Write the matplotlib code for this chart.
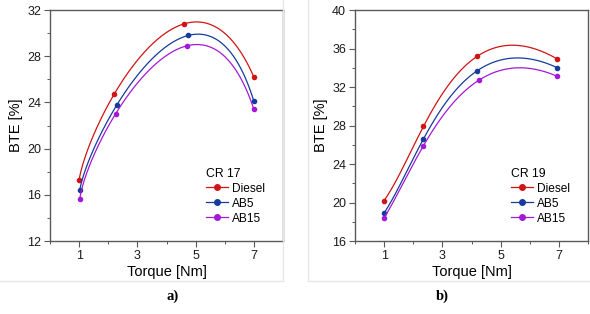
import numpy as np
import matplotlib
matplotlib.use("Agg")
import matplotlib.pyplot as plt
from matplotlib.lines import Line2D
from matplotlib.ticker import MultipleLocator

plt.rcParams['font.family'] = ['Liberation Sans', 'DejaVu Sans']

series = ["Diesel", "AB5", "AB15"]
colors = ["#d01414", "#143c9a", "#a21ad6"]

# Panel a) CR 17
torque_a = {
    "Diesel": [1.0, 2.2, 4.6, 7.0],
    "AB5": [1.02, 2.3, 4.75, 7.0],
    "AB15": [1.02, 2.25, 4.7, 7.0],
}
bte_a = {
    "Diesel": [17.3, 24.7, 30.8, 26.2],
    "AB5": [16.4, 23.8, 29.8, 24.1],
    "AB15": [15.6, 23.0, 28.9, 23.4],
}
# Panel b) CR 19
torque_b = {
    "Diesel": [1.0, 2.35, 4.2, 6.95],
    "AB5": [1.0, 2.35, 4.2, 6.95],
    "AB15": [1.0, 2.35, 4.25, 6.95],
}
bte_b = {
    "Diesel": [20.2, 27.9, 35.2, 34.9],
    "AB5": [18.9, 26.6, 33.7, 34.0],
    "AB15": [18.4, 25.9, 32.7, 33.1],
}

xticks = [1, 3, 5, 7]
yticks_a = [12, 16, 20, 24, 28, 32]
yticks_b = [16, 20, 24, 28, 32, 36, 40]

W, H = 590, 314
AX_W, AX_H = 233, 231
XLIM = (0, 8)


def smooth_curve(x, y, ylim, n=300):
    # parametric cubic through the points (centripetal parameter, screen scale)
    x = np.asarray(x, float)
    y = np.asarray(y, float)
    sx = AX_W / (XLIM[1] - XLIM[0])
    sy = AX_H / (ylim[1] - ylim[0])
    d = np.hypot(np.diff(x * sx), np.diff(y * sy))
    t = np.concatenate([[0], np.cumsum(np.sqrt(d))])
    t /= t[-1]
    cx = np.polyfit(t, x, len(x) - 1)
    cy = np.polyfit(t, y, len(y) - 1)
    ts = np.linspace(0, 1, n)
    return np.polyval(cx, ts), np.polyval(cy, ts)


fig = plt.figure(figsize=(W / 100, H / 100), dpi=100)
spine_col = "#5a5a5a"


def make_panel(left, tx, by, yticks, title):
    ax = fig.add_axes([left / W, 1 - 241 / H, AX_W / W, AX_H / H])
    ylim = (yticks[0], yticks[-1])
    for s, c in zip(series, colors):
        xs, ys = smooth_curve(tx[s], by[s], ylim)
        ax.plot(xs, ys, color=c, lw=0.9)
        ax.plot(tx[s], by[s], 'o', color=c, ms=3.0, mec=c)
    ax.set_xlim(*XLIM)
    ax.set_ylim(*ylim)
    ax.set_xticks(xticks)
    ax.set_yticks(yticks)
    ax.xaxis.set_minor_locator(MultipleLocator(1))
    ax.yaxis.set_minor_locator(MultipleLocator(2))
    ax.tick_params(which='both', direction='out', colors=spine_col,
                   labelcolor='#1a1a1a', labelsize=9, top=False, right=False)
    ax.tick_params(which='major', length=4, width=0.8, pad=2.5)
    ax.tick_params(which='minor', length=2, width=0.7)
    for sp in ax.spines.values():
        sp.set_color(spine_col)
        sp.set_linewidth(1.0)
    ax.set_xlabel("Torque [Nm]", fontsize=10.5, labelpad=2)
    ax.set_ylabel("BTE [%]", fontsize=10.5, labelpad=3)
    handles = [Line2D([], [], color=c, lw=0.9, marker='o', ms=4) for c in colors]
    leg = ax.legend(handles, series, title=title, loc='lower right',
                    bbox_to_anchor=(0.96, 0.035), frameon=False, fontsize=8.6,
                    title_fontsize=8.8, handlelength=1.8, handletextpad=0.4,
                    labelspacing=0.25, borderpad=0.2)
    leg._legend_box.align = "left"
    return ax


make_panel(50, torque_a, bte_a, yticks_a, "CR 17")
make_panel(355, torque_b, bte_b, yticks_b, "CR 19")

# light panel frames
fc = "#e6e6e6"
fig.add_artist(Line2D([0, 283 / W], [1 - 281 / H] * 2, color=fc, lw=1))
fig.add_artist(Line2D([283 / W] * 2, [1 - 281 / H, 1], color=fc, lw=1))
fig.add_artist(Line2D([308 / W, 1], [1 - 281 / H] * 2, color=fc, lw=1))
fig.add_artist(Line2D([308 / W] * 2, [1 - 281 / H, 1], color=fc, lw=1))

fig.text(173 / W, 1 - 296 / H, "a)", fontsize=10.5, fontweight='bold',
         family='Liberation Serif', ha='center', va='center')
fig.text(442 / W, 1 - 296 / H, "b)", fontsize=10.5, fontweight='bold',
         family='Liberation Serif', ha='center', va='center')

fig.savefig("out.png", dpi=100)
